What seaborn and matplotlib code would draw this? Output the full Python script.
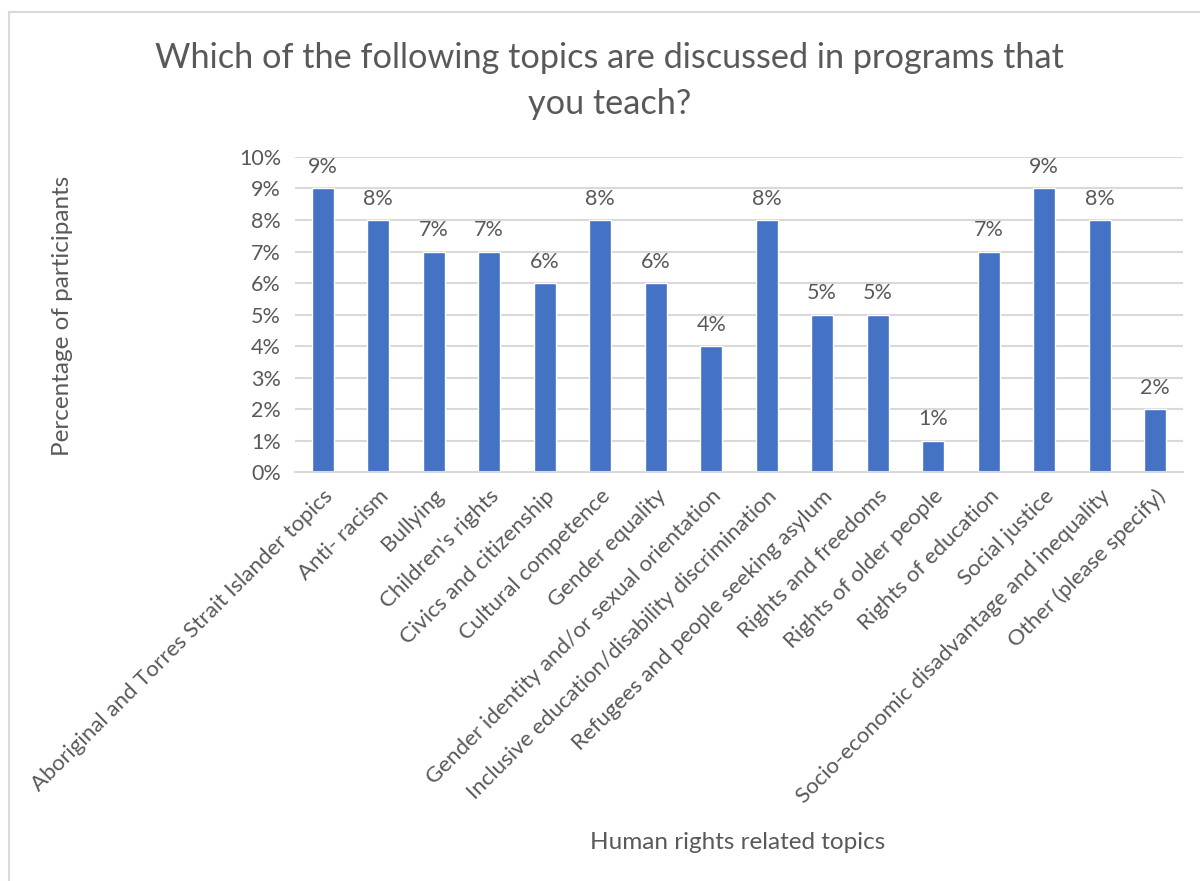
import matplotlib
matplotlib.use("Agg")
import matplotlib.pyplot as plt
import seaborn as sns
import pandas as pd
from matplotlib.ticker import PercentFormatter, MultipleLocator
from matplotlib.lines import Line2D

categories = [
    "Aboriginal and Torres Strait Islander topics",
    "Anti- racism",
    "Bullying",
    "Children's rights",
    "Civics and citizenship",
    "Cultural competence",
    "Gender equality",
    "Gender identity and/or sexual orientation",
    "Inclusive education/disability discrimination",
    "Refugees and people seeking asylum",
    "Rights and freedoms",
    "Rights of older people",
    "Rights of education",
    "Social justice",
    "Socio-economic disadvantage and inequality",
    "Other (please specify)",
]
values = [9, 8, 7, 7, 6, 8, 6, 4, 8, 5, 5, 1, 7, 9, 8, 2]

title = "Which of the following topics are discussed in programs that\nyou teach?"
xlabel = "Human rights related topics"
ylabel = "Percentage of participants"

sns.set_theme(style="white")
plt.rcParams["font.family"] = ["Lato", "DejaVu Sans"]
text_color = "#595959"
grid_color = "#D9D9D9"
bar_color = "#4472C4"

df = pd.DataFrame({"topic": categories, "pct": values})

fig = plt.figure(figsize=(12, 8.81), dpi=100)
ax = fig.add_axes([0.2458, 0.4642, 0.74, 0.3576])

sns.barplot(data=df, x="topic", y="pct", color=bar_color, width=0.4,
            saturation=1, ax=ax)

ax.set_ylim(0, 10)
ax.set_xlim(-0.5, len(categories) - 0.5)
ax.yaxis.set_major_locator(MultipleLocator(1))
ax.yaxis.set_major_formatter(PercentFormatter(decimals=0))
ax.grid(axis="y", color=grid_color, linewidth=1.5)
ax.set_axisbelow(True)
for s in ["top", "right", "left"]:
    ax.spines[s].set_visible(False)
ax.spines["bottom"].set_color(grid_color)
ax.spines["bottom"].set_linewidth(1.5)
ax.tick_params(axis="both", length=0, colors=text_color)
ax.tick_params(axis="y", pad=10, labelsize=15.5)
ax.tick_params(axis="x", pad=10, labelsize=16)
plt.setp(ax.get_xticklabels(), rotation=45, ha="right", rotation_mode="anchor")

for c in ax.containers:
    ax.bar_label(c, labels=[f"{v}%" for v in values], padding=8,
                 fontsize=15.5, color=text_color)

ax.set_xlabel("")
ax.set_ylabel("")
fig.text(0.615, 0.044, xlabel, ha="center", va="center", fontsize=17.5, color=text_color)
fig.text(0.052, 0.642, ylabel, ha="center", va="center", rotation=90,
         fontsize=17.5, color=text_color)
fig.text(0.508, 0.908, title, ha="center", va="center", fontsize=24.7,
         color=text_color, linespacing=1.55)

fig.add_artist(Line2D([0.0075, 1.0], [0.9864, 0.9864], transform=fig.transFigure,
                      color=grid_color, linewidth=1.5))
fig.add_artist(Line2D([0.0075, 0.0075], [0.0, 0.9864], transform=fig.transFigure,
                      color=grid_color, linewidth=1.5))

fig.savefig("out.png", dpi=100, facecolor="white")
